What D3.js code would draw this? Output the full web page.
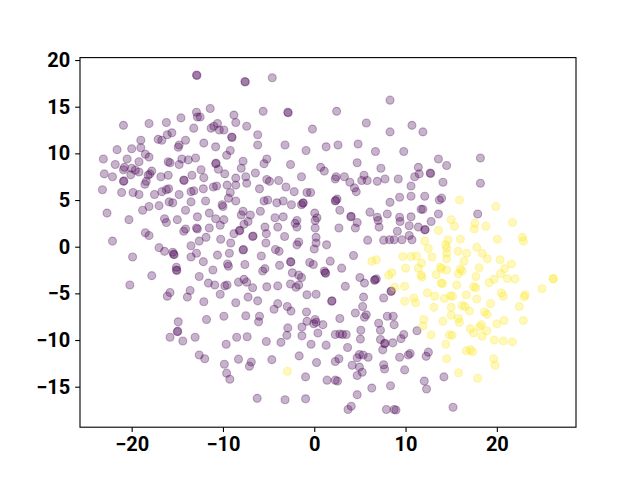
<!DOCTYPE html>
<html>
<head>
<meta charset="utf-8">
<script src="https://cdn.jsdelivr.net/npm/d3@7"></script>
<style>
  html, body { margin: 0; padding: 0; background: #fff; }
  svg { display: block; }
</style>
</head>
<body>
<svg id="chart" width="640" height="480"></svg>
<script>
// ---- data (x, y pairs) ----
const purplePoints = [
[-12.9,18.4],[-12.85,18.35],[-7.6,17.7],[-7.55,17.65],[-12.9,14.4],[-11.4,14.8],[-8.8,14.1],[-12.8,13.9],[-12.5,13.9],[-20.9,13.0],[-18.1,13.2],[-16.2,13.3],[-14.6,13.8],[-13.2,12.7],[-11.3,12.7],[-11.0,12.9],[-10.6,13.2],[-10.4,12.5],[-9.9,12.5],[-8.6,13.3],[-7.4,12.9],[-9.0,11.7],[-9.05,11.75],
[-16.1,12.0],[-15.6,12.2],[-17.1,11.5],[-16.7,11.4],[-19.0,11.4],[-14.1,11.4],[-14.8,10.9],[-14.9,10.65],[-12.1,11.1],[-10.8,10.7],[-9.2,10.3],[-9.6,9.8],[-21.6,10.4],[-20.0,10.5],[-19.0,10.6],[-18.5,9.9],[-18.1,9.6],[-23.1,9.4],[-21.8,8.8],[-20.5,9.4],[-20.8,8.5],[-20.9,8.25],[-20.0,8.4],[-19.2,9.1],[-19.6,8.2],[-16.0,9.1],[-15.8,9.0],[-14.8,8.8],[-14.5,9.4],[-13.8,9.3],[-13.0,9.5],[-10.8,8.9],[-10.75,8.95],[-10.5,8.3],[-7.8,9.15],[-8.0,8.4],[-12.4,8.25],[-23.0,7.8],[-22.1,7.5],[-20.9,7.0],[-20.85,7.05],[-20.1,7.7],[-19.2,8.0],[-18.0,7.8],[-17.8,8.1],[-18.2,7.65],[-16.8,7.5],[-16.0,7.65],[-14.3,7.15],[-14.25,7.1],[-13.4,7.65],[-12.1,7.4],[-9.8,7.8],[-8.6,7.35],[-7.5,7.5],
[-4.6,18.1],[-5.6,14.5],[-2.9,14.4],[-2.85,14.35],[2.45,14.5],[8.3,15.7],[-6.2,12.0],[-0.2,12.6],[5.7,13.25],[8.3,12.3],[10.7,13.0],[-6.2,10.9],[-3.2,10.9],[-0.9,10.3],[1.3,10.7],[2.6,10.9],[4.8,11.0],[6.7,10.2],[9.8,10.2],[-5.2,9.4],[-5.5,8.9],[-2.6,8.8],[0.7,8.5],[1.1,8.1],[4.7,9.0],[7.3,8.4],[-6.45,7.9],[-1.4,7.5],[-5.2,7.2],[-4.9,7.0],[-3.9,7.1],[2.4,7.5],[2.3,7.25],[3.3,7.5],[5.45,7.65],[5.2,7.1],[5.8,7.1],[6.9,7.0],[7.75,7.25],[9.2,7.25],[3.9,6.9],
[11.9,12.3],[13.6,9.4],[14.5,8.7],[18.2,9.5],[11.4,8.5],[11.5,7.8],[11.0,7.5],[12.7,7.9],[12.75,7.85],[14.1,6.9],[18.2,6.8],
[-18.55,6.7],[-18.4,7.0],[-23.2,6.1],[-21.1,5.8],[-19.85,5.8],[-19.2,5.6],[-17.5,5.6],[-16.7,5.9],[-16.2,6.1],[-15.95,6.2],[-14.8,5.6],[-13.5,5.9],[-13.2,6.0],[-12.15,6.2],[-11.05,6.4],[-10.7,6.5],[-9.55,6.6],[-8.6,6.6],[-7.4,6.8],[-9.2,5.8],[-9.4,5.2],[-22.7,3.6],[-20.3,2.9],[-18.8,3.9],[-18.1,4.3],[-17.0,4.4],[-15.9,4.8],[-15.5,4.7],[-13.5,4.8],[-11.9,4.9],[-10.1,4.5],[-10.0,4.3],[-8.6,4.9],[-7.8,3.8],[-8.0,3.4],[-16.4,3.0],[-16.2,2.6],[-15.0,2.9],[-14.1,3.9],[-12.8,3.2],[-11.5,3.6],[-10.8,3.0],[-9.9,2.9],[-10.3,2.3],[-14.3,1.65],[-14.1,1.9],[-12.9,2.0],[-12.8,1.9],[-11.5,2.0],[-18.5,1.5],[-18.1,1.2],[-22.1,0.6],[-12.6,0.6],[-11.85,1.0],[-10.25,0.8],[-9.15,0.4],[-8.8,1.4],[-8.2,1.7],[-8.15,1.75],[-7.7,2.4],[-7.25,2.7],[-17.0,-0.1],[-16.4,-0.5],[-15.5,-0.6],[-15.4,-0.8],[-15.35,-0.85],[-13.5,0.1],[-13.5,-1.1],[-12.9,-0.7],[-12.15,-1.6],[-10.6,-0.9],[-9.3,-0.7],[-7.8,-0.35],[-7.75,-0.3],[-19.9,-1.1],[-15.1,-2.2],[-15.1,-2.5],[-15.05,-2.55],[-11.1,-2.5],[-9.5,-1.85],[-9.4,-2.1],[-7.6,-1.9],[-17.8,-3.1],[-12.6,-3.2],[-20.2,-4.1],[-11.6,-3.9],[-10.9,-4.1],[-9.8,-4.2],[-9.55,-4.1],[-8.3,-3.8],[-7.7,-3.5],[-7.4,-3.8],[-15.8,-4.9],[-16.1,-5.3],[-13.6,-4.7],[-13.9,-5.4],[-10.3,-5.1],[-12.1,-5.9],[-8.6,-6.0],[-7.25,-5.4],
[-6.0,6.2],[-3.1,6.4],[-2.2,5.9],[-0.8,5.8],[-0.4,5.8],[4.6,5.9],[4.4,6.3],[10.6,6.5],[-5.5,4.9],[-5.1,5.0],[-4.1,4.7],[-3.4,4.9],[-2.5,4.5],[-1.4,4.5],[-1.2,4.7],[-1.25,4.65],[2.5,5.1],[2.3,4.9],[2.35,4.95],[8.3,4.75],[9.35,5.3],[10.6,5.4],[-5.9,3.8],[-7.0,3.4],[-4.3,3.1],[-3.4,3.2],[-1.9,2.8],[0.05,3.6],[0.3,3.1],[0.1,2.8],[2.8,3.9],[4.0,3.2],[4.05,3.25],[4.7,2.6],[6.1,3.7],[6.9,3.15],[7.0,2.8],[8.0,3.5],[9.35,3.15],[9.4,2.7],[10.6,3.2],[-5.4,2.1],[-4.0,2.1],[-2.1,2.5],[-1.9,2.1],[0.1,2.0],[2.7,2.0],[4.5,2.0],[7.1,2.1],[9.1,1.65],[10.4,2.25],[-6.75,1.1],[-6.7,1.15],[-5.25,1.4],[-3.25,1.1],[-5.3,0.4],[-1.9,0.2],[-1.7,0.5],[0.2,1.0],[0.2,0.4],[0.0,-0.25],[1.35,0.2],[5.85,0.7],[7.6,0.7],[8.25,0.75],[8.75,0.75],[9.6,0.75],[10.4,1.2],[10.7,0.75],[-4.25,-0.3],[-3.85,-0.5],[-5.8,-1.0],[-2.6,-1.6],[-2.55,-1.65],[-0.5,-1.7],[-0.1,-1.9],[1.75,-1.55],[4.3,-0.95],[-5.4,-2.35],[-5.65,-2.6],[-3.8,-2.0],[-2.4,-2.8],[-1.7,-3.05],[-1.4,-3.3],[1.1,-2.6],[1.2,-2.8],[1.25,-2.85],[3.0,-2.3],[5.0,-3.3],[5.5,-3.9],[6.6,-3.6],[6.65,-3.55],[6.8,-3.45],[-6.75,-4.4],[-5.2,-4.3],[-4.0,-4.2],[-2.6,-4.0],[-2.0,-4.35],[-1.7,-4.1],[-0.8,-5.15],[0.2,-5.1],[1.9,-5.85],[1.95,-5.8],[3.4,-4.25],[5.4,-5.4],[7.6,-5.5],[8.4,-4.8],[8.45,-4.75],[-6.2,-5.8],[-4.0,-6.1],[-2.95,-6.4],[5.3,-6.4],
[12.1,5.4],[13.7,5.0],[13.95,5.2],[11.7,4.0],[11.9,4.0],[13.6,3.5],[17.9,3.5],[12.8,2.7],[11.4,2.1],[12.1,1.8],[12.15,1.85],
[-14.9,-8.05],[-15.0,-9.1],[-14.95,-9.05],[-15.8,-9.7],[-14.4,-10.1],[-13.05,-9.7],[-11.8,-7.8],[-9.9,-7.45],[-7.5,-7.4],[-9.65,-10.45],[-8.5,-9.7],[-7.35,-9.65],[-12.6,-11.6],[-12.0,-12.0],[-9.85,-12.6],[-9.6,-13.55],[-9.25,-14.2],[-8.3,-12.05],[-7.1,-12.8],
[-2.55,-6.9],[-0.85,-7.0],[4.5,-7.1],[5.7,-7.3],[5.5,-7.55],[-6.0,-7.45],[-6.1,-8.05],[-4.4,-6.7],[-0.8,-8.0],[0.1,-7.8],[0.2,-8.1],[-0.05,-8.25],[0.95,-8.35],[2.8,-7.7],[-2.9,-8.7],[-3.0,-9.5],[-1.35,-8.6],[0.4,-9.25],[2.3,-9.4],[2.8,-9.35],[3.1,-9.4],[3.5,-9.4],[5.1,-8.95],[5.05,-9.9],[7.05,-8.2],[7.25,-8.95],[8.0,-7.45],[8.65,-7.45],[8.75,-8.35],[-5.25,-10.15],[-3.65,-10.25],[-1.35,-9.55],[-0.35,-10.45],[1.3,-10.55],[3.65,-10.8],[7.25,-9.95],[7.7,-10.4],[7.75,-10.35],[7.5,-11.05],[8.6,-10.3],[9.8,-9.4],[9.5,-9.85],[-6.9,-12.35],[-4.65,-12.1],[-1.65,-11.7],[0.25,-12.4],[2.3,-12.3],[2.7,-12.0],[4.15,-12.7],[4.7,-11.9],[4.95,-11.55],[5.35,-11.6],[5.9,-11.85],[4.95,-12.9],[5.25,-13.45],[4.7,-13.8],[7.6,-12.65],[7.7,-13.1],[9.35,-11.85],[9.9,-13.2],[-0.95,-13.95],[1.4,-14.3],[2.3,-14.3],[2.55,-14.4],[8.35,-14.9],[6.3,-15.15],[4.7,-15.85],[-6.25,-16.25],[-3.2,-16.4],[-0.95,-16.3],[3.7,-17.45],[4.05,-17.1],[7.9,-17.45],[8.75,-17.45],[8.95,-17.5],
[11.25,-9.0],[10.5,-11.45],[10.3,-11.6],[12.5,-11.3],[12.25,-11.75],[12.05,-14.4],[12.3,-15.25],[14.2,-13.95],[15.2,-17.2]
];

const yellowPoints = [
[6.3,-1.55],[6.8,-1.4],[9.7,-1.05],[10.6,-1.05],[10.0,-2.3],[8.5,-2.8],[8.15,-3.05],[8.8,-4.35],[9.9,-4.25],[9.9,-5.85],[10.9,-5.5],
[15.9,5.0],[19.9,4.3],[15.0,2.9],[13.6,1.75],[15.35,2.2],[17.6,2.5],[17.5,1.9],[18.8,2.2],[21.7,2.6],[12.1,0.6],[14.65,0.75],[16.0,0.8],[14.4,0.2],[14.5,-0.15],[14.5,-0.7],[14.5,-1.3],[20.05,0.8],[22.8,1.0],[22.9,0.6],[12.5,-0.2],[11.2,-1.0],[12.9,-1.1],[15.75,-0.5],[16.7,-0.7],[17.8,-0.05],[18.4,-0.7],[18.95,-1.3],[16.4,-1.55],[11.75,-1.75],[20.35,-1.4],[21.6,-1.85],[11.4,-2.3],[13.8,-2.2],[13.95,-2.35],[14.5,-2.5],[16.0,-2.4],[16.2,-2.6],[15.8,-2.9],[18.05,-2.25],[20.85,-2.35],[20.4,-2.9],[11.7,-3.05],[11.8,-3.25],[13.35,-3.0],[17.7,-3.2],[21.15,-3.4],[22.0,-3.45],[26.2,-3.45],[26.15,-3.4],[13.9,-3.9],[14.05,-3.95],[15.6,-4.1],[17.45,-4.3],[17.7,-4.4],[19.15,-3.85],[19.7,-3.5],[24.95,-4.5],[11.1,-6.0],[12.4,-4.95],[13.2,-5.3],[14.25,-5.55],[14.9,-5.25],[15.15,-5.3],[16.65,-5.15],[17.8,-5.6],[19.3,-6.1],[20.5,-4.95],[20.7,-5.3],[23.0,-5.35],[23.1,-5.15],[22.45,-6.4],[16.2,-6.3],[16.5,-6.4],[13.1,-6.5],[15.0,-6.5],
[17.0,-6.9],[18.65,-7.0],[18.95,-7.25],[12.0,-7.8],[11.9,-8.5],[14.1,-8.0],[15.8,-7.7],[15.9,-8.1],[18.3,-8.35],[18.1,-8.6],[20.0,-8.25],[20.8,-7.9],[22.9,-7.9],[15.0,-7.35],[12.8,-9.45],[14.8,-9.45],[15.1,-9.5],[17.1,-8.8],[17.45,-9.25],[18.4,-9.6],[18.9,-9.0],[19.7,-10.0],[20.7,-10.1],[21.7,-10.2],[14.4,-10.45],[16.65,-11.15],[17.1,-11.05],[17.35,-11.25],[14.5,-12.0],[19.65,-12.0],[19.8,-12.7],[15.8,-13.5],[17.9,-14.1],[-2.95,-13.35]
];

const xTicks = [-20, -10, 0, 10, 20];
const yTicks = [-15, -10, -5, 0, 5, 10, 15, 20];
const xDomain = [-25.66, 28.67];
const yDomain = [-19.34, 20.26];

// ---- layout ----
const mLeft = 80, mRight = 576, mTop = 57.6, mBottom = 427.2;
const svg = d3.select("#chart");

const x = d3.scaleLinear().domain(xDomain).range([mLeft, mRight]);
const y = d3.scaleLinear().domain(yDomain).range([mBottom, mTop]);

const purple = "#440154", yellow = "#fde725";

function drawPoints(pts, color) {
  svg.append("g").selectAll("circle").data(pts).join("circle")
    .attr("cx", d => x(d[0]))
    .attr("cy", d => y(d[1]))
    .attr("r", 4.0)
    .attr("fill", color)
    .attr("fill-opacity", 0.3)
    .attr("stroke", color)
    .attr("stroke-opacity", 0.3)
    .attr("stroke-width", 1.1);
}
drawPoints(purplePoints, purple);
drawPoints(yellowPoints, yellow);

const fmt = d3.format("d");
const tickLen = 4.86, tickPad = 4.86;
const fontStyle = g => g.selectAll("text")
  .attr("font-family", "Roboto, 'Liberation Sans', sans-serif")
  .attr("font-weight", "bold")
  .attr("font-size", "20px")
  .attr("fill", "#000");

const xAxis = svg.append("g").attr("transform", `translate(0,${mBottom})`)
  .call(d3.axisBottom(x).tickValues(xTicks).tickFormat(fmt).tickSize(tickLen).tickPadding(tickPad));
xAxis.select(".domain").remove();
xAxis.selectAll("line").attr("stroke", "#000").attr("stroke-width", 1.1);
xAxis.call(fontStyle);

const yAxis = svg.append("g").attr("transform", `translate(${mLeft},0)`)
  .call(d3.axisLeft(y).tickValues(yTicks).tickFormat(fmt).tickSize(tickLen).tickPadding(tickPad));
yAxis.select(".domain").remove();
yAxis.selectAll("line").attr("stroke", "#000").attr("stroke-width", 1.1);
yAxis.call(fontStyle);

svg.append("rect")
  .attr("x", mLeft).attr("y", mTop)
  .attr("width", mRight - mLeft).attr("height", mBottom - mTop)
  .attr("fill", "none").attr("stroke", "#000").attr("stroke-width", 1.1);
</script>
</body>
</html>
